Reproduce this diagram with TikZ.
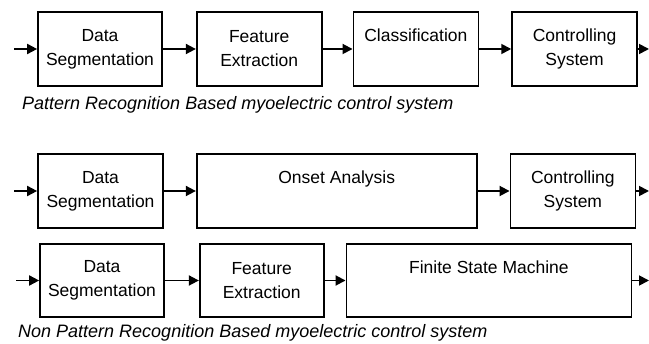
\documentclass[tikz,border=0pt]{standalone}
\usepackage{fontspec}
\setmainfont{Liberation Sans}
\usetikzlibrary{positioning, arrows.meta}
\tikzstyle{block} = [rectangle, minimum width=125pt, minimum height=74pt, inner sep=0pt, align=center, draw=black, line width=1.7pt, font=\fontsize{17.5}{24}\selectfont]
\tikzstyle{arrow} = [line width=1.8pt, -{Triangle[length=10pt,width=10pt]}]
\tikzstyle{captiontext} = [anchor=west, inner sep=0pt, font=\fontsize{18}{20}\selectfont\itshape]

\begin{document}
\begin{tikzpicture}[x=1pt, y=-1pt, node distance=32pt]
        \useasboundingbox (0,0) rectangle (649,344);

        % Pattern recognition based
        \node (seg1) [block, minimum width=124pt] at (100,49) {Data\\Segmentation};
        \node (feat1) [block, right=33pt of seg1] {Feature\\Extraction};
        \node (class1) [block, right=30pt of feat1] {Classification\\\phantom{g}};
        \node (ctrl1) [block, right=32pt of class1] {Controlling\\System};
        \node (cap1) [captiontext] at (22,105) {Pattern Recognition Based myoelectric control system};

        % Non pattern recognition based, onset
        \node (seg2) [block] at (100.5,191) {Data\\Segmentation};
        \node (onset2) [block, minimum width=280pt, right=of seg2] {Onset Analysis\\\phantom{g}};
        \node (ctrl2) [block, right=of onset2] {Controlling\\System};

        % Non pattern recognition based, state machine
        \node (seg3) [block, minimum width=124pt, minimum height=73pt] at (102,280.5) {Data\\Segmentation};
        \node (feat3) [block, minimum width=124pt, minimum height=73pt, right=34pt of seg3] {Feature\\Extraction};
        \node (fsm3) [block, minimum width=285pt, minimum height=73pt, right=21pt of feat3] {Finite State Machine\\\phantom{g}};
        \node (cap2) [captiontext] at (18,333) {Non Pattern Recognition Based myoelectric control system};

        \coordinate (in1) at (14,49);
        \coordinate (out1) at (649,49);
        \coordinate (in2) at (14,191);
        \coordinate (out2) at (649,191);
        \coordinate (in3) at (16,280.5);
        \coordinate (out3) at (649,280.5);

        % Arrows
        \draw [arrow] (in1) -- (seg1.west);
        \draw [arrow] (seg1.east) -- (feat1.west);
        \draw [arrow] (feat1.east) -- (class1.west);
        \draw [arrow] (class1.east) -- (ctrl1.west);
        \draw [arrow] (ctrl1.east) -- (out1);

        \draw [arrow] (in2) -- (seg2.west);
        \draw [arrow] (seg2.east) -- (onset2.west);
        \draw [arrow] (onset2.east) -- (ctrl2.west);
        \draw [arrow] (ctrl2.east) -- (out2);

        \draw [arrow] (in3) -- (seg3.west);
        \draw [arrow] (seg3.east) -- (feat3.west);
        \draw [arrow] (feat3.east) -- (fsm3.west);
        \draw [arrow] (fsm3.east) -- (out3);
    \end{tikzpicture}
\end{document}
